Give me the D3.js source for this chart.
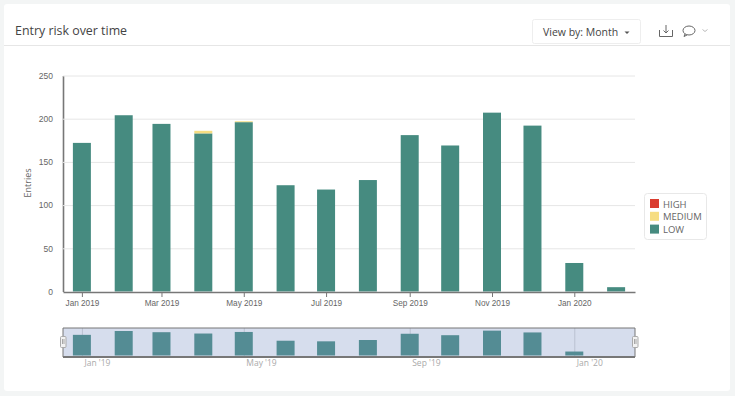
<!DOCTYPE html>
<html>
<head>
<meta charset="utf-8">
<script src="https://cdn.jsdelivr.net/npm/d3@7"></script>
<style>
  html, body { margin: 0; padding: 0; background: #f3f5f5; }
  svg { display: block; font-family: "Open Sans", sans-serif; }
  .axis text { fill: #666; font-size: 8.5px; }
  .axis .domain { stroke: #777; stroke-width: 1.6px; }
</style>
</head>
<body>
<svg id="viz" width="735" height="396"></svg>
<script>
const months = ["2019-01", "2019-02", "2019-03", "2019-04", "2019-05", "2019-06", "2019-07",
  "2019-08", "2019-09", "2019-10", "2019-11", "2019-12", "2020-01", "2020-02"];
const lowValues = [172, 204, 194, 183, 196, 123, 118, 129, 181, 169, 207, 192, 33, 5];
const mediumValues = [0, 0, 0, 3, 1, 0, 0, 0, 0, 0, 0, 0, 0, 0];
const highValues = [0, 0, 0, 0, 0, 0, 0, 0, 0, 0, 0, 0, 0, 0];
const yTicks = [0, 50, 100, 150, 200, 250];
const xTickMonths = ["2019-01", "2019-03", "2019-05", "2019-07", "2019-09", "2019-11", "2020-01"];
const navTickMonths = ["2019-01", "2019-05", "2019-09", "2020-01"];
const xDomain = ["2018-12-18", "2020-02-15"];
const riskLevels = ["LOW", "MEDIUM", "HIGH"];
const legendLevels = ["HIGH", "MEDIUM", "LOW"];
const riskColors = ["#468b80", "#f6dd82", "#da3c2f"];

const parseMonth = d3.utcParse("%Y-%m");
const parseDay = d3.utcParse("%Y-%m-%d");
const barWidth = 18;

const svg = d3.select("svg#viz");

// card and header
svg.append("rect").attr("x", 4).attr("y", 4).attr("width", 726).attr("height", 387)
  .attr("rx", 3).attr("fill", "#fff");
svg.append("line").attr("x1", 4).attr("x2", 730).attr("y1", 45.5).attr("y2", 45.5)
  .attr("stroke", "#e6e6e6");
svg.append("text").attr("x", 15).attr("y", 35)
  .attr("font-size", 12.4).attr("font-weight", 500).attr("fill", "#444")
  .text("Entry risk over time");

svg.append("rect").attr("x", 532.5).attr("y", 19.5).attr("width", 108).attr("height", 24)
  .attr("rx", 2).attr("fill", "#fff").attr("stroke", "#eee");
svg.append("text").attr("x", 543).attr("y", 36)
  .attr("font-size", 10.5).attr("font-weight", 500).attr("fill", "#444")
  .text("View by: Month");
svg.append("path").attr("d", "M624.5 31.5h5l-2.5 2.5z").attr("fill", "#555");

// download, comment, chevron
const icons = svg.append("g").attr("fill", "none").attr("stroke", "#666").attr("stroke-width", 1);
icons.append("path").attr("d", "M659.5 30v6.5h13V30");
icons.append("path").attr("d", "M666 25v8M663.5 30.5l2.5 2.5 2.5-2.5");
icons.append("ellipse").attr("cx", 689).attr("cy", 30.5).attr("rx", 6).attr("ry", 4.5);
icons.append("path").attr("d", "M685 34l-1 2.5 3-1.5");
icons.append("path").attr("d", "M702.5 29.5l2.5 2 2.5-2").attr("stroke", "#bbb");

// scales
const x = d3.scaleUtc().domain(xDomain.map(parseDay)).range([63, 635]);
const y = d3.scaleLinear().domain([0, 250]).range([291.5, 75.5]);
const navY = d3.scaleLinear().domain([0, 204]).range([355.5, 331]);
const color = d3.scaleOrdinal().domain(riskLevels).range(riskColors);

const rows = months.map((m, i) => ({
  month: parseMonth(m),
  LOW: lowValues[i],
  MEDIUM: mediumValues[i],
  HIGH: highValues[i]
}));
const series = d3.stack().keys(riskLevels)(rows);

// main axes
const yAxis = svg.append("g").attr("class", "axis").attr("transform", "translate(63,0)")
  .call(d3.axisLeft(y).tickValues(yTicks).tickSize(-572).tickPadding(10).tickSizeOuter(0));
yAxis.selectAll(".tick line").attr("stroke", "#e6e6e6");
yAxis.select(".tick line").attr("stroke", "none");

svg.append("text")
  .attr("transform", "translate(31,183) rotate(-90)")
  .attr("text-anchor", "middle")
  .attr("font-size", 9).attr("fill", "#666")
  .text("Entries");

// main bars
svg.append("g").selectAll("g")
  .data(series)
  .join("g")
  .attr("fill", (d) => color(d.key))
  .selectAll("rect")
  .data((d) => d)
  .join("rect")
  .attr("x", (d) => x(d.data.month) - barWidth / 2)
  .attr("width", barWidth)
  .attr("y", (d) => y(d[1]))
  .attr("height", (d) => y(d[0]) - y(d[1]));

const xAxis = svg.append("g").attr("class", "axis").attr("transform", "translate(0,292)")
  .call(d3.axisBottom(x)
    .tickValues(xTickMonths.map(parseMonth))
    .tickFormat(d3.utcFormat("%b %Y"))
    .tickSize(5).tickPadding(3).tickSizeOuter(0));
xAxis.selectAll(".tick line").attr("stroke", "#777");
xAxis.selectAll("text").style("font-size", "8.2px").attr("font-weight", 500);

// navigator: tick lines sit behind the bars
const nav = svg.append("g");
const navAxis = nav.append("g").attr("transform", "translate(0,357)")
  .call(d3.axisBottom(x)
    .tickValues(navTickMonths.map(parseMonth))
    .tickFormat(d3.utcFormat("%b '%y"))
    .tickSize(-29).tickSizeOuter(0));
navAxis.select(".domain").attr("stroke", "none");
navAxis.selectAll(".tick line").attr("stroke", "#d8d8d8");
navAxis.selectAll("text")
  .attr("text-anchor", "start").attr("x", 2).attr("y", 3)
  .attr("font-size", 8.5).attr("font-family", "Open Sans").attr("fill", "#aaa");

nav.append("g").selectAll("rect")
  .data(rows.slice(0, -1))
  .join("rect")
  .attr("x", (d) => x(d.month) - barWidth / 2)
  .attr("width", barWidth)
  .attr("y", (d) => navY(d.LOW))
  .attr("height", (d) => navY(0) - navY(d.LOW))
  .attr("fill", color("LOW"));
nav.append("rect").attr("x", 63).attr("y", 328).attr("width", 572).attr("height", 29)
  .attr("fill", "rgba(118,142,195,0.3)");

nav.append("path").attr("d", "M63 357V328H635V357").attr("fill", "none")
  .attr("stroke", "#777").attr("stroke-width", 1);
nav.append("line").attr("x1", 63).attr("x2", 635).attr("y1", 357).attr("y2", 357)
  .attr("stroke", "#777").attr("stroke-width", 2);

[63, 635].forEach((hx) => {
  nav.append("rect").attr("x", hx - 2.5).attr("y", 336.5).attr("width", 5.5).attr("height", 11)
    .attr("rx", 1).attr("fill", "#f2f2f2").attr("stroke", "#aaa");
  nav.append("path").attr("d", `M${hx - 0.5} 339v5M${hx + 1} 339v5`)
    .attr("stroke", "#888").attr("stroke-width", 0.7);
});

// legend
const legend = svg.append("g");
legend.append("rect").attr("x", 644.5).attr("y", 193.5).attr("width", 62).attr("height", 46)
  .attr("rx", 3).attr("fill", "#fff").attr("stroke", "#e8e8e8");
const legendRow = legend.selectAll("g.row")
  .data(legendLevels)
  .join("g")
  .attr("class", "row")
  .attr("transform", (d, i) => `translate(650,${199 + i * 12.8})`);
legendRow.append("rect").attr("width", 9).attr("height", 9).attr("fill", (d) => color(d));
legendRow.append("text").attr("x", 13).attr("y", 8.5)
  .attr("font-size", 9.5).attr("fill", "#666")
  .text((d) => d);
</script>
</body>
</html>
